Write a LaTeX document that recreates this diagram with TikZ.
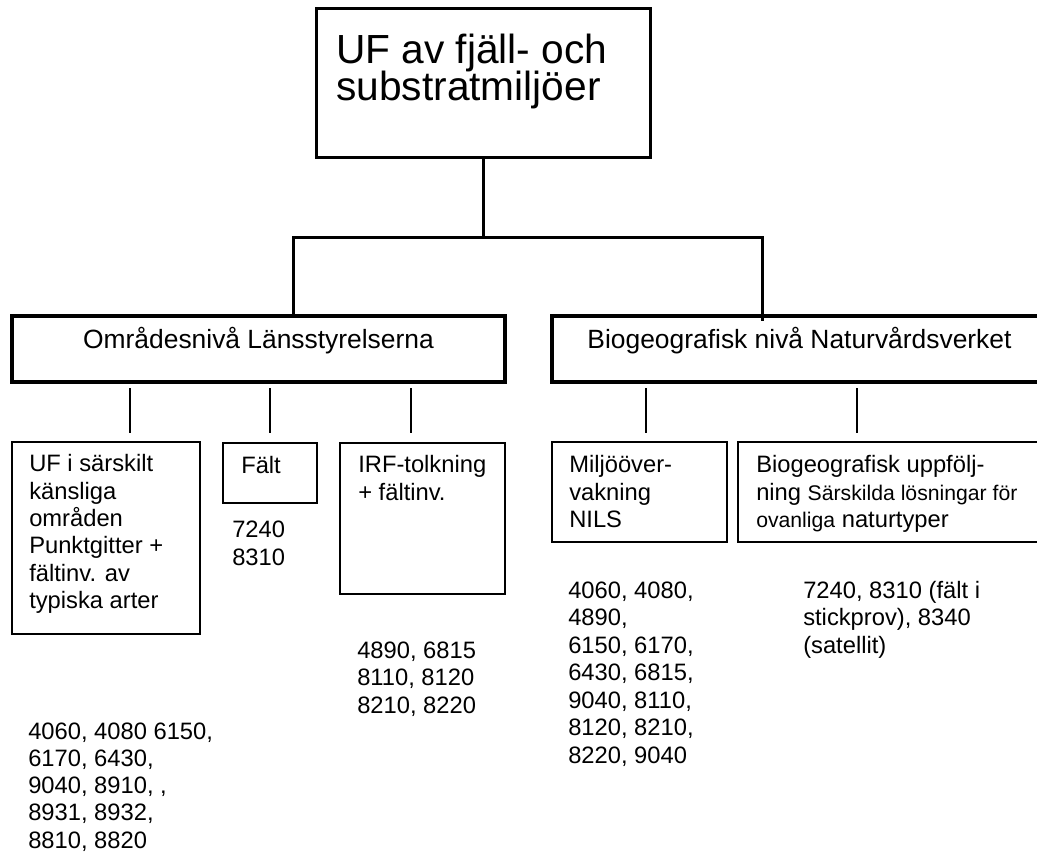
\documentclass[tikz,border=0pt]{standalone}
\usepackage{fontspec}
\setmainfont{Liberation Sans}
\newcommand{\pxl}{0.75pt}
\tikzset{
  box/.style={draw, line width=1.1pt, inner sep=0pt},
  bigbox/.style={draw, line width=3pt, inner sep=0pt},
  topbox/.style={draw, line width=2.25pt, inner sep=0pt},
  thickline/.style={line width=2.25pt},
  thinline/.style={line width=0.8pt},
  toptxt/.style={anchor=base west, inner sep=0pt, font=\fontsize{30.5}{36}\selectfont},
  txt/.style={anchor=base west, inner sep=0pt, align=left, font=\fontsize{17.8}{20.5}\selectfont},
  numtxt/.style={txt, font=\fontsize{17.8}{20.4}\selectfont}
}
\begin{document}
\begin{tikzpicture}[x=0.75pt, y=-0.75pt]
  \useasboundingbox (0,0) rectangle (1037,851);
  % boxes
  \node[topbox, minimum width=334*\pxl, minimum height=149*\pxl] (top) at (483,82.5) {};
  \node[bigbox, minimum width=493*\pxl, minimum height=66*\pxl] (omr) at (258.5,349) {};
  \node[bigbox, minimum width=493*\pxl, minimum height=66*\pxl] (bio) at (798.5,349) {};
  \node[box, minimum width=188*\pxl, minimum height=192*\pxl] (uf) at (106,538) {};
  \node[box, minimum width=94*\pxl, minimum height=60*\pxl] (falt) at (270,473) {};
  \node[box, minimum width=165*\pxl, minimum height=151*\pxl] (irf) at (422.5,518.5) {};
  \node[box, minimum width=175*\pxl, minimum height=100*\pxl] (milj) at (639.5,492) {};
  \node[box, minimum width=307*\pxl, minimum height=100*\pxl] (bup) at (891.5,492) {};
  % texts (multi-line ones anchored at the baseline of the last line)
  \node[toptxt] (toptext) at (336,63) {UF av fjäll- och};
  \node[toptxt] (toptextb) at (336,100) {substratmiljöer};
  \node[anchor=base, inner sep=0pt, font=\fontsize{19.8}{24}\selectfont] (omrtext) at (258.5,348) {Områdesnivå Länsstyrelserna};
  \node[anchor=base, inner sep=0pt, font=\fontsize{19.8}{24}\selectfont] (biotext) at (799.5,348) {Biogeografisk nivå Naturvårdsverket};
  \node[txt] (uftext) at (29,608.5) {UF i särskilt\\känsliga\\områden\\Punktgitter +\\fältinv. av\\typiska arter};
  \node[txt] (falttext) at (241,473) {Fält};
  \node[txt] (irftext) at (358,500) {IRF-tolkning\\+ fältinv.};
  \node[txt] (miljtext) at (569,527.5) {Miljööver-\\vakning\\NILS};
  \node[txt] (buptext) at (756,527.5) {Biogeografisk uppfölj-\\ning {\fontsize{15.9}{20.5}\selectfont Särskilda lösningar för}\\{\fontsize{15.9}{20.5}\selectfont ovanliga} naturtyper};
  % numbers
  \node[numtxt] (faltnum) at (232,565) {7240\\8310};
  \node[numtxt] (irfnum) at (357,713) {4890, 6815\\8110, 8120\\8210, 8220};
  \node[numtxt] (ufnum) at (28,848) {4060, 4080 6150,\\6170, 6430,\\9040, 8910, ,\\8931, 8932,\\8810, 8820};
  \node[numtxt, font=\fontsize{17.8}{20.6}\selectfont] (miljnum) at (568,763) {4060, 4080,\\4890,\\6150, 6170,\\6430, 6815,\\9040, 8110,\\8120, 8210,\\8220, 9040};
  \node[numtxt, font=\fontsize{17.8}{20.6}\selectfont] (bupnum) at (803,653) {7240, 8310 (fält i\\stickprov), 8340\\(satellit)};
  % connectors
  \coordinate (jm) at (top.south |- 0,237);
  \coordinate (jl) at (293,237);
  \coordinate (jr) at (762,237);
  \draw[thickline] (top.south) -- (jm);
  \draw[thickline] (omr.north -| jl) -- (jl) -- (jr) -- (762,321);
  \foreach \x in {130,270,411,646,857}
    \draw[thinline] (\x,388) -- (\x,433);
\end{tikzpicture}
\end{document}
